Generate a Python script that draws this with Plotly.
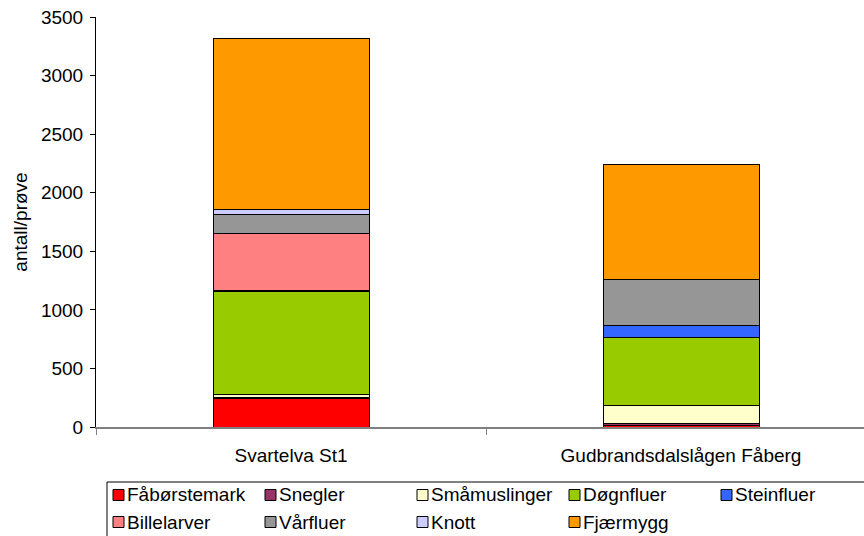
import plotly.graph_objects as go

# Sampling sites (x categories)
sites = ["Svartelva St1", "Gudbrandsdalslågen Fåberg"]

# Animal groups, stacked bottom to top
groups = ["Fåbørstemark", "Snegler", "Småmuslinger", "Døgnfluer", "Steinfluer",
          "Billelarver", "Vårfluer", "Knott", "Fjærmygg"]
colors = ["#FF0000", "#993366", "#FFFFCC", "#99CC00", "#3366FF",
          "#FF8080", "#969696", "#CCCCFF", "#FF9900"]

# Individuals per sample for each group at each site
faborstemark = [245, 12]
snegler = [5, 18]
smamuslinger = [29, 152]
dognfluer = [876, 580]
steinfluer = [10, 103]
billelarver = [485, 0]
varfluer = [162, 390]
knott = [46, 0]
fjaermygg = [1460, 990]

series = [faborstemark, snegler, smamuslinger, dognfluer, steinfluer,
          billelarver, varfluer, knott, fjaermygg]

y_ticks = [0, 500, 1000, 1500, 2000, 2500, 3000, 3500]

FONT = "Arial, Liberation Sans, sans-serif"
FS = 19
W, H = 864, 536
ML, MR, MT, MB = 96, 0, 17, 109

fig = go.Figure()
for name, vals, col in zip(groups, series, colors):
    fig.add_trace(go.Bar(
        x=sites, y=vals, name=name,
        marker=dict(color=col, line=dict(color="black", width=1)),
        showlegend=False,
    ))

# Hand-laid legend: 5 columns, boxed, running off the right/bottom edge
plot_w = W - ML - MR
plot_h = H - MT - MB


def px_x(px):
    return (px - ML) / plot_w


def px_y(py):
    return (H - MB - py) / plot_h


shapes = [dict(type="rect", xref="paper", yref="paper",
               x0=px_x(107), x1=px_x(900), y0=px_y(482), y1=px_y(560),
               line=dict(color="black", width=1), fillcolor="white", layer="below")]
annotations = []
col_x0, col_step = 113, 152
row_y0, row_step = 495, 27
sq = 11
for i, (name, col) in enumerate(zip(groups, colors)):
    cx = col_x0 + (i % 5) * col_step
    cy = row_y0 + (i // 5) * row_step
    shapes.append(dict(type="rect", xref="paper", yref="paper",
                       x0=px_x(cx), x1=px_x(cx + sq),
                       y0=px_y(cy + sq / 2), y1=px_y(cy - sq / 2),
                       fillcolor=col, line=dict(color="black", width=1)))
    annotations.append(dict(xref="paper", yref="paper", x=px_x(cx + sq + 1), y=px_y(cy),
                            xanchor="left", yanchor="middle", showarrow=False,
                            text=name, font=dict(family=FONT, size=FS, color="black")))

fig.update_layout(
    width=W, height=H,
    margin=dict(l=ML, r=MR, t=MT, b=MB, pad=0),
    barmode="stack",
    bargap=0.6,
    paper_bgcolor="white",
    plot_bgcolor="white",
    font=dict(family=FONT, size=FS, color="black"),
    shapes=shapes,
    annotations=annotations,
    xaxis=dict(
        type="category",
        range=[-0.5, -0.5 + plot_w / 390],
        tickson="boundaries",
        ticks="outside", ticklen=6, tickcolor="#808080", tickwidth=1,
        showline=True, linecolor="#808080", linewidth=2,
        showgrid=False, zeroline=False,
        ticklabelstandoff=10,
        tickfont=dict(family=FONT, size=FS, color="black"),
    ),
    yaxis=dict(
        range=[0, 3500],
        tickvals=y_ticks,
        ticks="outside", ticklen=5, tickcolor="black", tickwidth=1,
        showline=True, linecolor="black", linewidth=1,
        showgrid=False, zeroline=False,
        ticklabelstandoff=3,
        tickfont=dict(family=FONT, size=FS, color="black"),
        title=dict(text="antall/prøve", standoff=8,
                   font=dict(family=FONT, size=FS, color="black")),
    ),
)

fig.write_html("out.html")
